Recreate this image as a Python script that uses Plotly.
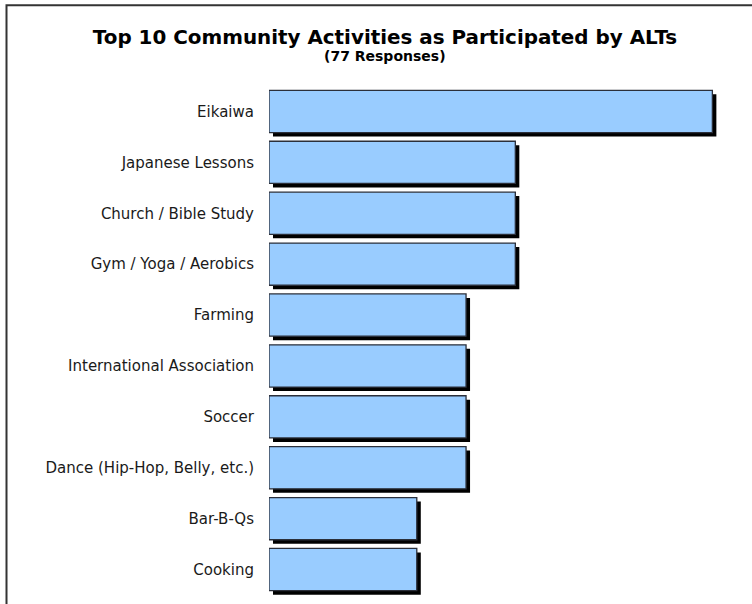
import plotly.graph_objects as go

categories = ["Eikaiwa", "Japanese Lessons", "Church / Bible Study", "Gym / Yoga / Aerobics",
              "Farming", "International Association", "Soccer", "Dance (Hip-Hop, Belly, etc.)",
              "Bar-B-Qs", "Cooking"]
values = [9, 5, 5, 5, 4, 4, 4, 4, 3, 3]
title_text = "Top 10 Community Activities as Participated by ALTs"
subtitle_text = "(77 Responses)"

W, H = 752, 604
L, R = 269, 737
T, B = 85.5, 595.3
xmax = 9.5
px_x = (R - L) / xmax
px_y = (B - T) / len(categories)
bw = 0.83
sx = 4 / px_x
sy = 4 / px_y

pos = list(range(len(categories)))

fig = go.Figure()
# shadow
fig.add_trace(go.Bar(
    y=pos, x=values, base=[sx] * len(values), orientation="h",
    width=bw, offset=-bw / 2 + sy,
    marker=dict(color="#000000", line=dict(width=0)),
    hoverinfo="skip", showlegend=False,
))
# bars
fig.add_trace(go.Bar(
    y=pos, x=values, orientation="h", width=bw, offset=-bw / 2,
    marker=dict(color="#99CCFF", line=dict(color="#2b2f3a", width=1.3)),
    showlegend=False,
))

fig.update_layout(
    width=W, height=H, barmode="overlay",
    margin=dict(l=L, r=W - R, t=T, b=H - B, pad=0),
    paper_bgcolor="white", plot_bgcolor="white",
    font=dict(family="DejaVu Sans, Verdana, sans-serif", color="#1a1a1a", size=15),
    title=dict(text="<b>" + title_text + "</b>", xref="container", yref="container",
               x=385 / W, xanchor="center", y=1 - 37.5 / H, yanchor="middle",
               font=dict(size=19.9, color="#000000")),
    xaxis=dict(range=[0, xmax], showticklabels=False, showgrid=False, zeroline=False,
               showline=False, ticks=""),
    yaxis=dict(range=[len(categories) - 0.5, -0.5], tickmode="array", tickvals=pos,
               ticktext=categories, showgrid=False, zeroline=False, showline=False,
               ticks="", ticklabelstandoff=14, tickfont=dict(size=15, color="#1a1a1a")),
    annotations=[dict(text="<b>" + subtitle_text + "</b>", xref="paper", yref="paper",
                      x=(385 - L) / (R - L), y=(B - 55) / (B - T), xanchor="center",
                      yanchor="middle", showarrow=False, font=dict(size=14, color="#000000"))],
    shapes=[dict(type="rect", xref="paper", yref="paper",
                 x0=(6.5 - L) / (R - L), x1=(800 - L) / (R - L),
                 y0=(B - 700) / (B - T), y1=(B - 4.5) / (B - T),
                 line=dict(color="#333333", width=2), layer="below")],
)

fig.write_html("out.html")
